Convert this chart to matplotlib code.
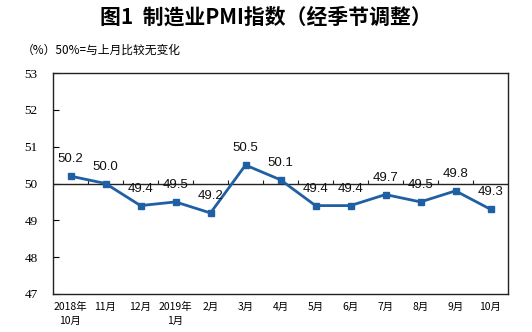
import numpy as np
import matplotlib
matplotlib.use("Agg")
import matplotlib.pyplot as plt

plt.rcParams['font.family'] = ['Noto Sans CJK SC', 'DejaVu Sans']

# data
months = ["2018年\n10月", "11月", "12月", "2019年\n1月", "2月", "3月", "4月",
          "5月", "6月", "7月", "8月", "9月", "10月"]
pmi = [50.2, 50.0, 49.4, 49.5, 49.2, 50.5, 50.1, 49.4, 49.4, 49.7, 49.5, 49.8, 49.3]
yticks = [47, 48, 49, 50, 51, 52, 53]

line_col = '#1f5fa3'

fig = plt.figure(figsize=(5.32, 3.32), dpi=100)
ax = fig.add_axes([53 / 532, 38 / 332, 455 / 532, 221 / 332])

x = np.arange(len(pmi))
ax.plot(x, pmi, color=line_col, lw=2, marker='s', ms=4.5, zorder=3)
for xi, v in zip(x, pmi):
    ax.annotate("%.1f" % v, (xi, v), xytext=(0, 11), textcoords='offset pixels',
                ha='center', va='bottom', fontsize=9.5, family='Liberation Sans',
                color='#111111')

ax.set_xlim(-0.5, len(pmi) - 0.5)
ax.set_ylim(47, 53)

# 50 baseline with category separators pointing up
ax.axhline(50, color='#222222', lw=1, zorder=2)
bounds = np.arange(len(pmi) - 1) + 0.5
ax.vlines(bounds, 50, 50.1, color='#222222', lw=0.8, zorder=2)

ax.set_yticks(yticks)
ax.set_yticklabels([str(t) for t in yticks], fontsize=9.5, family='Liberation Serif')
ax.tick_params(axis='y', direction='in', length=4, width=0.8, pad=11)
ax.set_xticks(x)
ax.set_xticklabels(months, fontsize=7.5, linespacing=1.4, va='top')
ax.tick_params(axis='x', length=0, pad=6)
for s in ax.spines.values():
    s.set_linewidth(1)
    s.set_color('#222222')

fig.text(0.5, 0.95, "图1  制造业PMI指数（经季节调整）", ha='center', va='center',
         fontsize=15, fontweight='bold')
fig.text(22 / 532, 1 - 50 / 332, "（%）50%=与上月比较无变化", ha='left', va='center',
         fontsize=8.5)

fig.savefig("out.png", dpi=100)
